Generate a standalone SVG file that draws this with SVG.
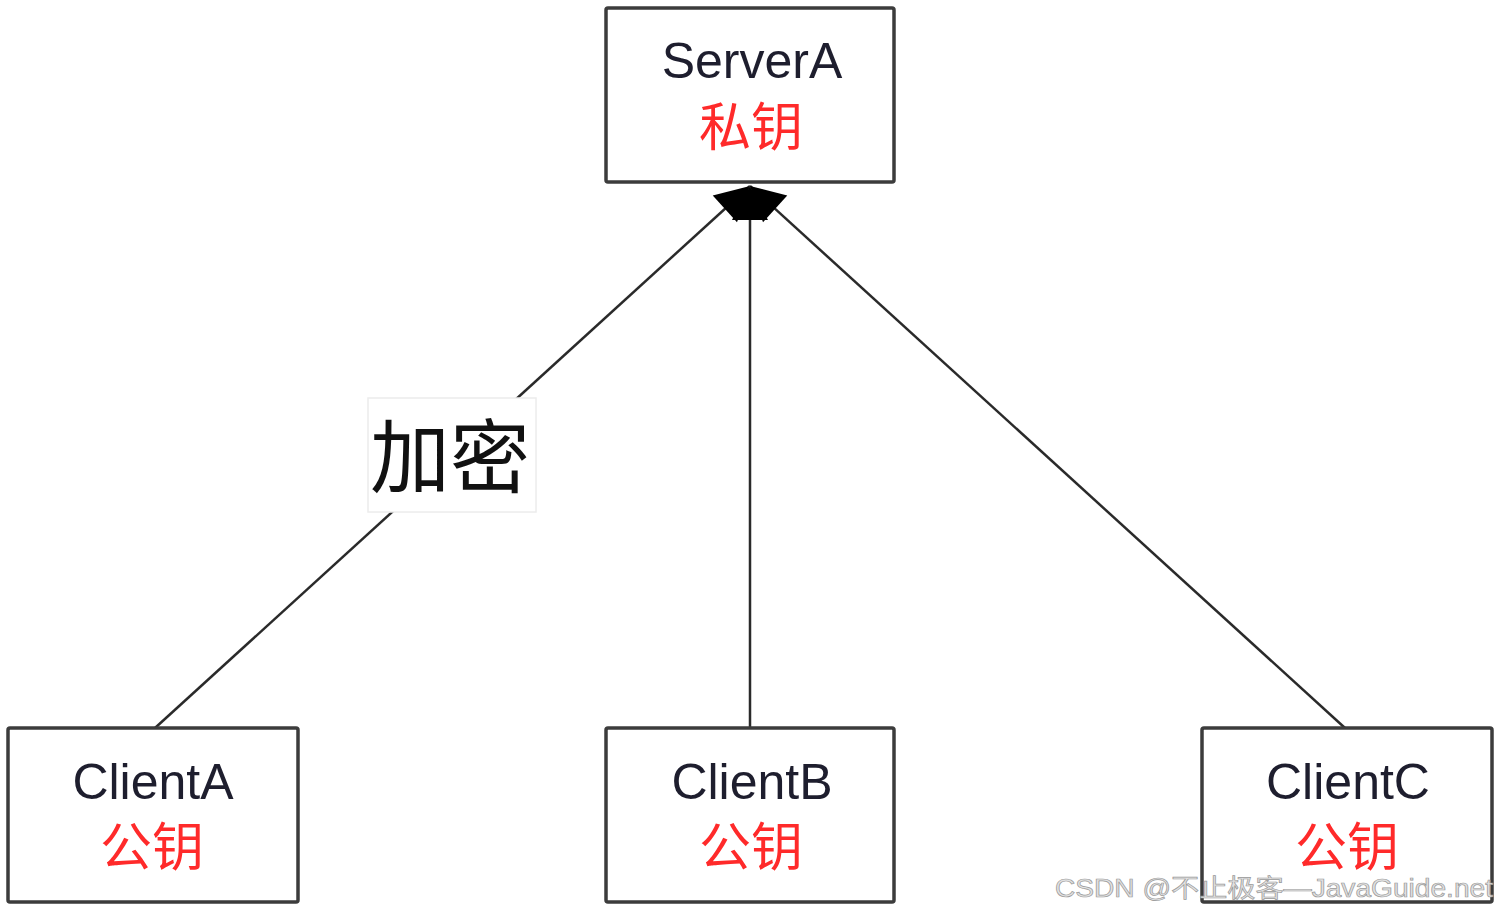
<svg xmlns="http://www.w3.org/2000/svg" width="1500" height="912" viewBox="0 0 1500 912">
<style>
.box{fill:#fff;stroke:#3c3c3c;stroke-width:3.5}
.en{font-family:"Liberation Sans","Noto Sans",sans-serif;font-size:50px;fill:#1e1e2e;text-anchor:middle}
.zh{font-family:"Noto Sans CJK SC",sans-serif;font-size:52px;fill:#ff2a2a;text-anchor:middle}
.edge{stroke:#2a2a2a;stroke-width:2.5;fill:none}
.lbl{font-family:"Noto Sans CJK SC",sans-serif;font-size:80px;fill:#111}
.wm{font-family:"Liberation Sans","Noto Sans CJK SC",sans-serif;font-size:25px;fill:#e2e2e2;stroke:#9a9a9a;stroke-width:0.7}
</style>
<defs>
<marker id="arr" viewBox="0 0 10 10" refX="10" refY="5" markerWidth="10" markerHeight="10" markerUnits="userSpaceOnUse" orient="auto" overflow="visible">
<path d="M-24,-13 L10,5 L-24,23 Z" fill="#000"/>
</marker>
</defs>
<rect width="1500" height="912" fill="#fff"/>
<g id="connectors">
<line class="edge" x1="155" y1="728" x2="750" y2="186" marker-end="url(#arr)"/>
<line class="edge" x1="750" y1="728" x2="750" y2="186" marker-end="url(#arr)"/>
<line class="edge" x1="1345" y1="728" x2="750" y2="186" marker-end="url(#arr)"/>
<g id="label-jiami">
<rect x="368" y="398" width="168" height="114" fill="#fff" stroke="#ececec" stroke-width="1.5"/>
<text class="lbl" x="370" y="486">加密</text>
</g>
</g>
<g id="serverA">
<rect class="box" x="606" y="8" width="288" height="174" rx="2"/>
<text class="en" x="752" y="78">ServerA</text>
<text class="zh" x="751" y="146">私钥</text>
</g>
<g id="clientA">
<rect class="box" x="8" y="728" width="290" height="174" rx="2"/>
<text class="en" x="153" y="799">ClientA</text>
<text class="zh" x="152" y="866">公钥</text>
</g>
<g id="clientB">
<rect class="box" x="606" y="728" width="288" height="174" rx="2"/>
<text class="en" x="752" y="799">ClientB</text>
<text class="zh" x="751" y="866">公钥</text>
</g>
<g id="clientC">
<rect class="box" x="1202" y="728" width="290" height="174" rx="2"/>
<text class="en" x="1348" y="799">ClientC</text>
<text class="zh" x="1347" y="866">公钥</text>
</g>
<text class="wm" x="1055" y="897" textLength="438" lengthAdjust="spacingAndGlyphs">CSDN @不止极客—JavaGuide.net</text>
</svg>
